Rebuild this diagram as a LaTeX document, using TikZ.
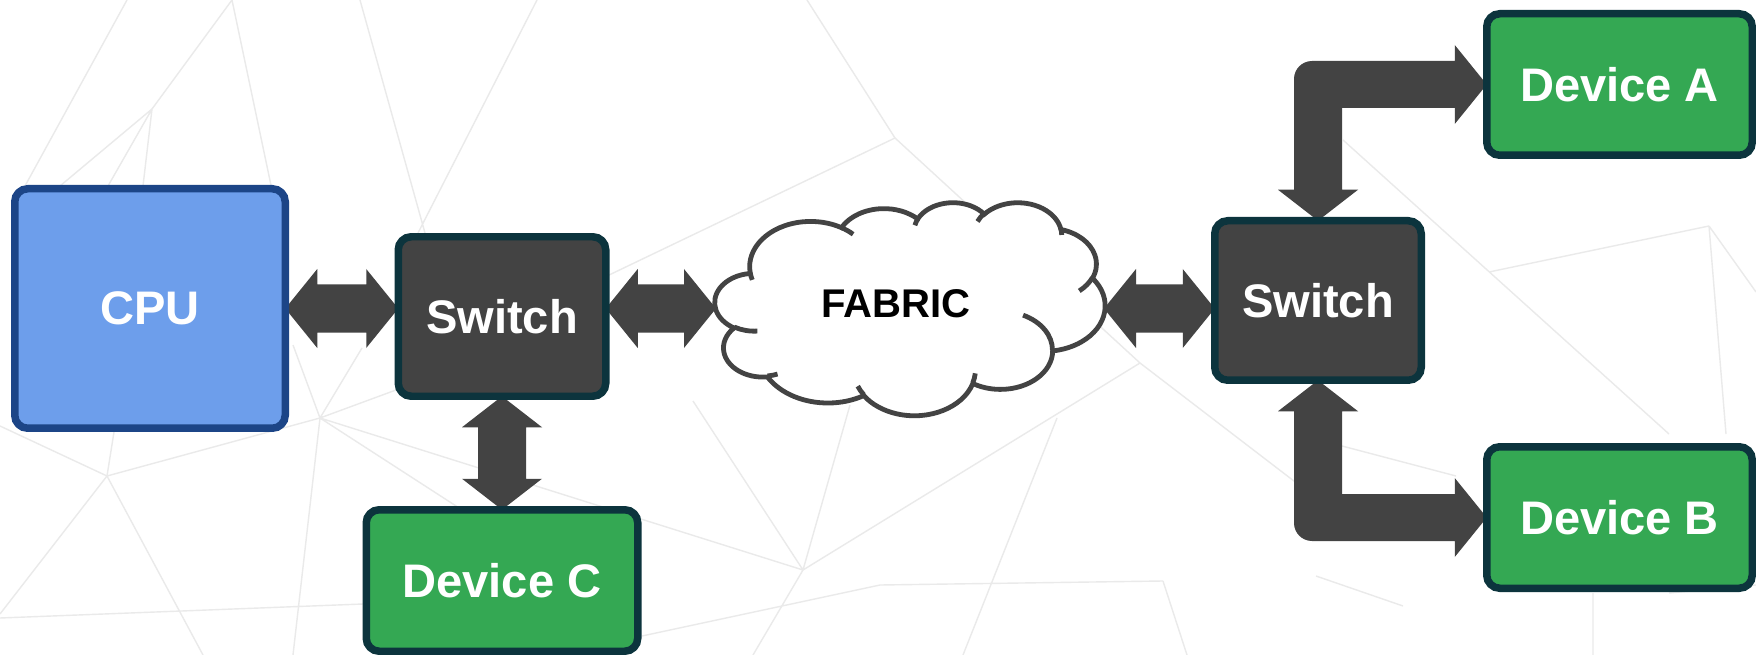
\documentclass[tikz,border=0pt]{standalone}
\usepackage{fontspec}
\setmainfont{Liberation Sans}
\usetikzlibrary{calc,backgrounds}
\definecolor{cpufill}{HTML}{6D9EEB}
\definecolor{cpuline}{HTML}{1C4587}
\definecolor{swfill}{HTML}{434343}
\definecolor{boxline}{HTML}{0C343D}
\definecolor{devfill}{HTML}{34A853}
\definecolor{arwcol}{HTML}{434343}
\definecolor{bgline}{HTML}{EAEAEA}
\tikzset{
 blk/.style={draw=boxline, line width=0.75mm, rounded corners=1.3mm, inner sep=0pt, outer sep=0pt, text=white, font=\bfseries\fontsize{13.4}{16}\selectfont},
 cpubox/.style={blk, fill=cpufill, draw=cpuline},
 swbox/.style={blk, fill=swfill},
 devbox/.style={blk, fill=devfill},
 arw/.style={fill=arwcol},
 bgl/.style={draw=bgline, line width=0.14mm},
 cloudline/.style={draw=arwcol, line width=0.48mm},
}
\def\cldsx{9.02778}
\def\cldsy{4.93056}
\newcommand\ooprep[5]{%
  \pgfmathsetmacro\ooTa{atan2((#2)*sin(#4),(#3)*cos(#4))}%
  \pgfmathsetmacro\ooTb{atan2((#2)*sin((#4)+(#5)),(#3)*cos((#4)+(#5)))}%
  \pgfmathsetmacro\ooTd{(\ooTb)-(\ooTa)}%
  \pgfmathsetmacro\ooTd{(\ooTd)+360*round(((#5)-(\ooTd))/360)}%
  \pgfmathsetmacro\ooRx{(#2)*\cldsx}%
  \pgfmathsetmacro\ooRy{(#3)*\cldsy}%
  \expandafter\xdef\csname cld#1\endcsname{arc[x radius=\ooRx, y radius=\ooRy, start angle=\ooTa, delta angle=\ooTd]}%
}
\newcommand\hdarrow[2]{\fill[arw] (#1) -- ($(#1)+(32,-39.5)$) -- ($(#1)+(32,-24)$) -- ($(#2)+(-32,-24)$) -- ($(#2)+(-32,-39.5)$) -- (#2) -- ($(#2)+(-32,39.5)$) -- ($(#2)+(-32,24)$) -- ($(#1)+(32,24)$) -- ($(#1)+(32,39.5)$) -- cycle;}
\begin{document}
\begin{tikzpicture}[x=0.1mm,y=-0.1mm]
\useasboundingbox (0,0) rectangle (1756,655);
% cloud geometry
\ooprep{A}{6.753}{9.190}{-190.4875}{123.7805}
\ooprep{B}{5.333}{7.267}{-144.1024}{89.9452}
\ooprep{C}{4.365}{5.945}{-145.8079}{99.7230}
\ooprep{D}{4.857}{6.595}{-130.9861}{117.2417}
\ooprep{E}{5.333}{7.273}{-78.7089}{109.0269}
\ooprep{F}{6.775}{9.220}{-46.2673}{130.2690}
\ooprep{G}{5.785}{7.867}{0.6250}{114.0333}
\ooprep{H}{6.752}{9.215}{22.4516}{115.1726}
\ooprep{I}{7.720}{10.543}{66.2426}{75.7110}
\ooprep{J}{4.360}{5.918}{-274.9421}{146.7356}
\ooprep{K}{4.345}{5.945}{-246.8285}{152.5189}
\ooprep{a}{4.345}{5.945}{86.7420}{26.4295}
\ooprep{b}{4.360}{5.918}{73.6105}{11.4475}
\ooprep{c}{6.752}{9.215}{137.6242}{14.0811}
\ooprep{d}{6.752}{9.215}{6.4533}{15.9984}
\ooprep{e}{5.785}{7.867}{-70.2924}{70.9174}
\ooprep{f}{5.333}{7.273}{30.3180}{27.7515}
\ooprep{g}{4.857}{6.595}{-13.7443}{14.8589}
\ooprep{h}{4.857}{6.595}{-149.1815}{18.1954}
\ooprep{i}{4.365}{5.945}{-163.4943}{17.6864}
\ooprep{j}{6.753}{9.190}{-66.7070}{12.3194}
\ooprep{k}{6.753}{9.190}{157.6544}{11.8582}
\coordinate (cs0) at ({715+3.900*\cldsx},{202+14.370*\cldsy});
\coordinate (s1) at ({715+4.693*\cldsx},{202+26.177*\cldsy});
\coordinate (s2) at ({715+6.928*\cldsx},{202+34.899*\cldsy});
\coordinate (s3) at ({715+16.478*\cldsx},{202+39.090*\cldsy});
\coordinate (s4) at ({715+28.827*\cldsx},{202+34.751*\cldsy});
\coordinate (s5) at ({715+34.129*\cldsx},{202+22.954*\cldsy});
\coordinate (s6) at ({715+41.798*\cldsx},{202+15.354*\cldsy});
\coordinate (s7) at ({715+38.324*\cldsx},{202+5.426*\cldsy});
\coordinate (s8) at ({715+29.078*\cldsx},{202+3.952*\cldsy});
\coordinate (s9) at ({715+22.141*\cldsx},{202+4.720*\cldsy});
\coordinate (s10) at ({715+14.000*\cldsx},{202+5.192*\cldsy});
\coordinate (s11) at ({715+4.127*\cldsx},{202+15.789*\cldsy});
\coordinate (clw) at (716,308.5);
\coordinate (cle) at (1104,308.5);
% boxes
\node[cpubox, minimum width=27.05mm, minimum height=23.95mm] (cpu) at (150,308.5) {CPU};
\node[swbox, minimum width=20.75mm, minimum height=15.95mm] (sw1) at (502,316.5) {Switch};
\node[devbox, minimum width=27.15mm, minimum height=14.15mm] (devc) at (502,580.5) {Device C};
\node[swbox, minimum width=20.65mm, minimum height=15.95mm] (sw2) at (1318,300.5) {Switch};
\node[devbox, minimum width=26.55mm, minimum height=14.15mm] (deva) at (1619.5,84.5) {Device A};
\node[devbox, minimum width=26.55mm, minimum height=14.15mm] (devb) at (1619.5,517.5) {Device B};
% background and connectors
\begin{scope}[on background layer]
\fill[white] (0,0) rectangle (1756,655);
\draw[bgl] (232,0)--(152,109) (232,0)--(272,190) (152,109)--(60,186) (152,109)--(143,186)
 (152,109)--(108,186) (127,0)--(25,186) (360,0)--(425,233) (537,0)--(418,233)
 (107,476)--(0,426) (107,476)--(114,432) (107,476)--(320,418) (107,476)--(0,614) (107,476)--(203,655)
 (320,418)--(293,345) (320,418)--(362,348) (320,418)--(396,390) (320,418)--(803,570)
 (320,418)--(470,515) (320,418)--(293,655) (0,618)--(363,604)
 (807,0)--(895,138) (895,138)--(607,276) (895,138)--(1140,363) (1140,363)--(1320,501)
 (803,570)--(1140,363) (803,570)--(753,655) (693,401)--(803,570) (850,405)--(803,570)
 (642,636)--(880,585) (880,585)--(1163,581) (1163,581)--(1187,655) (1057,418)--(963,655)
 (1343,140)--(1669,434) (1709,226)--(1489,272) (1709,226)--(1726,434) (1709,226)--(1756,292)
 (1342,446)--(1456,476) (1316,576)--(1403,606) (1593,593)--(1593,655) (1669,593)--(1756,585);
\hdarrow{cpu.east}{sw1.west |- cpu.east}
\hdarrow{sw1.east |- cpu.east}{clw}
\hdarrow{cle}{sw2.west |- cle}
\fill[arw] (sw1.south) -- ($(sw1.south)+(40,31)$) -- ($(sw1.south)+(24,31)$) -- ($(devc.north)+(24,-31)$) -- ($(devc.north)+(40,-31)$) -- (devc.north) -- ($(devc.north)+(-40,-31)$) -- ($(devc.north)+(-24,-31)$) -- ($(sw1.south)+(-24,31)$) -- ($(sw1.south)+(-40,31)$) -- cycle;
\coordinate (ca) at (sw2.north |- deva.west);
\fill[arw] (sw2.north) -- ($(sw2.north)+(-40,-31)$) -- ($(sw2.north)+(-24,-31)$) -- ($(ca)+(-24,-5.5)$) arc[start angle=180, end angle=270, radius=18] -- ($(deva.west)+(-32,-23.5)$) -- ($(deva.west)+(-32,-39.5)$) -- (deva.west) -- ($(deva.west)+(-32,39.5)$) -- ($(deva.west)+(-32,23.5)$) -- ($(ca)+(24,23.5)$) -- ($(sw2.north)+(24,-31)$) -- ($(sw2.north)+(40,-31)$) -- cycle;
\coordinate (cb) at (sw2.south |- devb.west);
\fill[arw] (sw2.south) -- ($(sw2.south)+(40,31)$) -- ($(sw2.south)+(24,31)$) -- ($(cb)+(24,-23.5)$) -- ($(devb.west)+(-32,-23.5)$) -- ($(devb.west)+(-32,-39.5)$) -- (devb.west) -- ($(devb.west)+(-32,39.5)$) -- ($(devb.west)+(-32,23.5)$) -- ($(cb)+(-6,23.5)$) arc[start angle=90, end angle=180, radius=18] -- ($(sw2.south)+(-24,31)$) -- ($(sw2.south)+(-40,31)$) -- cycle;
\end{scope}
% cloud
\filldraw[fill=white, cloudline] (cs0) \cldA \cldB \cldC \cldD \cldE \cldF \cldG \cldH \cldI \cldJ \cldK -- cycle;
\draw[cloudline] (s1) \clda (s2) \cldb (s3) \cldc (s4) \cldd (s5) \clde (s6) \cldf (s7) \cldg (s8) \cldh (s9) \cldi (s10) \cldj (s11) \cldk;
\node[font=\bfseries\fontsize{11.4}{14}\selectfont, inner sep=0pt] (fabric) at (896,304) {FABRIC};
\end{tikzpicture}
\end{document}
